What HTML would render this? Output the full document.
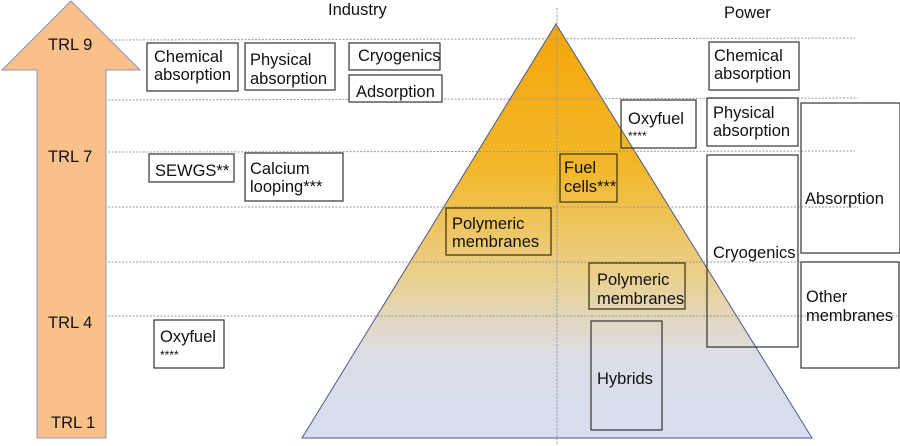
<!DOCTYPE html>
<html><head><meta charset="utf-8"><style>
html,body{margin:0;padding:0;background:#fff}
svg{display:block}
text{font-family:"Liberation Sans",Arial,sans-serif;font-size:16.5px;fill:#111}
</style></head><body>
<svg width="900" height="446" viewBox="0 0 900 446" xmlns="http://www.w3.org/2000/svg">
<defs>
<linearGradient id="g" x1="0" y1="24" x2="0" y2="438" gradientUnits="userSpaceOnUse">
<stop offset="0" stop-color="#f5a50a"/>
<stop offset="0.35" stop-color="#f2b82a"/>
<stop offset="0.6" stop-color="#eacf8a"/>
<stop offset="0.8" stop-color="#dcdde6"/>
<stop offset="1" stop-color="#d6def0"/>
</linearGradient>
</defs>
<polygon points="71,1 140,70 106,70 106,438 37,438 37,70 2,70" fill="#f9c08a" stroke="#8c96b4" stroke-width="1"/>
<polygon points="556,24 812,438 302,438" fill="url(#g)" stroke="#4a5a8c" stroke-width="1"/>
<g stroke="#999" stroke-width="1" stroke-dasharray="2,1.5">
<line x1="108" y1="40" x2="855" y2="38"/>
<line x1="108" y1="100" x2="858" y2="98"/>
<line x1="108" y1="152" x2="855" y2="151"/>
<line x1="108" y1="207" x2="858" y2="207"/>
<line x1="108" y1="262" x2="900" y2="262"/>
<line x1="108" y1="316" x2="900" y2="316"/>
<line x1="557" y1="8" x2="557" y2="446"/>
</g>
<text x="328" y="15">Industry</text>
<text x="724" y="18">Power</text>
<text x="48" y="50">TRL 9</text>
<text x="48" y="162">TRL 7</text>
<text x="48" y="328">TRL 4</text>
<text x="51" y="428">TRL 1</text>
<g fill="#fff" stroke="#333" stroke-width="1.2">
<rect x="147" y="43" width="91" height="48"/>
<rect x="245" y="43" width="90" height="47"/>
<rect x="349" y="43" width="91" height="27"/>
<rect x="349" y="75" width="93" height="27"/>
<rect x="149" y="154" width="85" height="28"/>
<rect x="245" y="153" width="98" height="48"/>
<rect x="154" y="320" width="70" height="48"/>
<rect x="709" y="42" width="90" height="48"/>
</g>
<g fill="none" stroke="#333" stroke-width="1.2">
<rect x="621" y="100" width="75" height="48"/>
<rect x="707" y="98" width="91" height="48"/>
<rect x="707" y="155" width="91" height="192"/>
<rect x="801" y="103" width="99" height="150"/>
<rect x="801" y="262" width="98" height="106"/>
<rect x="591" y="321" width="71" height="109"/>
</g>
<g fill="none" stroke="#4a3a10" stroke-width="1.3">
<rect x="446" y="208" width="105" height="47"/>
<rect x="560" y="154" width="57" height="48"/>
<rect x="589" y="263" width="96" height="46"/>
</g>
<text x="154" y="62">Chemical</text><text x="154" y="80">absorption</text>
<text x="250" y="65">Physical</text><text x="250" y="84">absorption</text>
<text x="358" y="61">Cryogenics</text>
<text x="356" y="97">Adsorption</text>
<text x="155" y="176">SEWGS**</text>
<text x="250" y="174">Calcium</text><text x="250" y="192">looping***</text>
<text x="160" y="342">Oxyfuel</text><text x="160" y="359" style="font-size:12px">****</text>
<text x="714" y="61">Chemical</text><text x="714" y="79">absorption</text>
<text x="628" y="124">Oxyfuel</text><text x="628" y="140" style="font-size:12px">****</text>
<text x="713" y="118">Physical</text><text x="713" y="136">absorption</text>
<text x="564" y="173">Fuel</text><text x="564" y="192">cells***</text>
<text x="805" y="204">Absorption</text>
<text x="452" y="229">Polymeric</text><text x="452" y="247">membranes</text>
<text x="713" y="258">Cryogenics</text>
<text x="597" y="285">Polymeric</text><text x="597" y="304">membranes</text>
<text x="806" y="302">Other</text><text x="806" y="321">membranes</text>
<text x="597" y="384">Hybrids</text>
</svg>
</body></html>
